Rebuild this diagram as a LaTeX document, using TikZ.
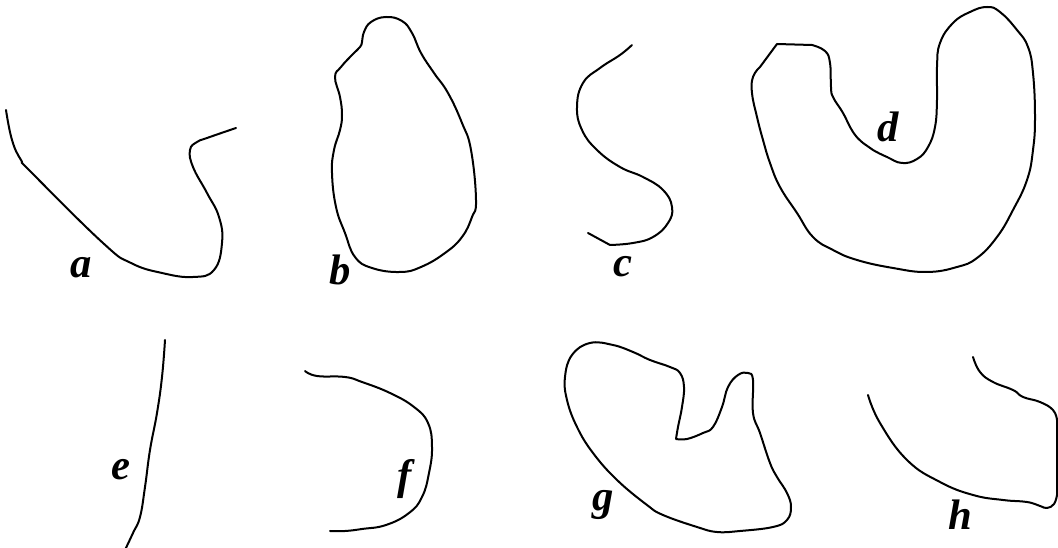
\documentclass[tikz,border=0pt]{standalone}
\usepackage{fontspec}
\setmainfont{Liberation Serif}
\begin{document}
\begin{tikzpicture}[x=0.75pt,y=-0.75pt,
  curve/.style={line width=1.5pt,line cap=round,line join=round,black},
  lbl/.style={anchor=base,inner sep=0pt,font=\fontsize{32}{36}\selectfont\bfseries\itshape}]
\useasboundingbox (0,0) rectangle (1058,548);
\clip (0,0) rectangle (1058,548);
% a
\draw[curve] plot[smooth,tension=0.75] coordinates {(6,110) (12,140) (21,160) (32,173) (103,243) (131,263) (162,273) (193,277) (214,270) (222,243) (219,217) (207,193) (193,167) (190,150) (197,142) (207,138) (236,128)};
\node[lbl] (la) at (81,278) {a};
% b
\draw[curve] plot[smooth cycle,tension=0.75] coordinates {(362,42) (364,32) (371,22) (386,17) (402,21) (412,33) (421,53) (434,73) (448,93) (462,123) (471,150) (476,200) (472,217) (462,237) (445,253) (421,267) (400,272) (372,268) (355,257) (345,233) (336,207) (332,173) (334,150) (340,130) (342,115) (340,97) (335,77) (341,67) (352,55) (360,47)};
\node[lbl] (lb) at (340,285) {b};
% c
\draw[curve] plot[smooth,tension=0.75] coordinates {(632,45) (620,55) (600,68) (583,83) (577,107) (582,130) (597,150) (620,167) (643,177) (663,190) (672,207) (668,223) (653,237) (633,243) (610,245)} -- (588,233);
\node[lbl] (lc) at (623,277) {c};
% d
\draw[curve] (760,67) -- (777,44) -- plot[smooth,tension=0.75] coordinates {(812,45) (825,51) (830,63) (831,87) (833,97) (843,113) (853,132) (863,143) (873,150) (887,157) (902,163) (917,159) (928,147) (935,127) (937,100) (937,67) (940,43) (953,23) (970,12) (987,7) (1000,12) (1017,30) (1028,47) (1033,73) (1035,117) (1033,150) (1027,180) (1013,210) (997,237) (977,258) (957,267) (927,272) (893,268) (857,260) (833,250) (813,237) (797,213) (780,187) (770,163) (763,140) (757,117) (752,93) (753,77) (760,67)};
\node[lbl] (ld) at (888,142) {d};
% e
\draw[curve] plot[smooth,tension=0.75] coordinates {(165,340) (162,377) (157,413) (150,450) (145,487) (140,517) (133,533) (124,552)};
\node[lbl] (le) at (121,480) {e};
% f
\draw[curve] plot[smooth,tension=0.75] coordinates {(305,371) (317,376) (345,377) (362,382) (390,393) (414,407) (428,423) (432,447) (429,473) (422,497) (409,513) (386,525) (362,529) (345,531) (330,531)};
\node[lbl] (lf) at (405,490) {f};
% g
\draw[curve] plot[smooth,tension=0.7] coordinates {(676,439) (687,439) (703,433) (713,427) (722,407) (728,387) (738,375) (748,373) (753,380) (753,413) (760,433) (770,463) (777,477) (787,493) (791,507) (787,520) (773,527) (740,531) (717,532) (697,527) (663,515) (647,505) (617,480) (593,453) (577,427) (567,400) (565,377) (572,355) (590,343) (613,345) (633,352) (650,360) (670,367) (680,373) (684,387) (682,407) (678,427) (676,439)};
\node[lbl] (lg) at (603,511) {g};
% h
\draw[curve] plot[smooth,tension=0.75] coordinates {(868,395) (880,423) (907,460) (940,482) (973,495) (1003,500) (1027,502) (1040,506) (1047,508) (1054,504) (1057,495)} -- (1057,420) -- plot[smooth,tension=0.75] coordinates {(1057,420) (1053,410) (1040,402) (1023,397) (1013,390) (993,382) (980,372) (973,357)};
\node[lbl] (lh) at (960,530) {h};
\end{tikzpicture}
\end{document}
